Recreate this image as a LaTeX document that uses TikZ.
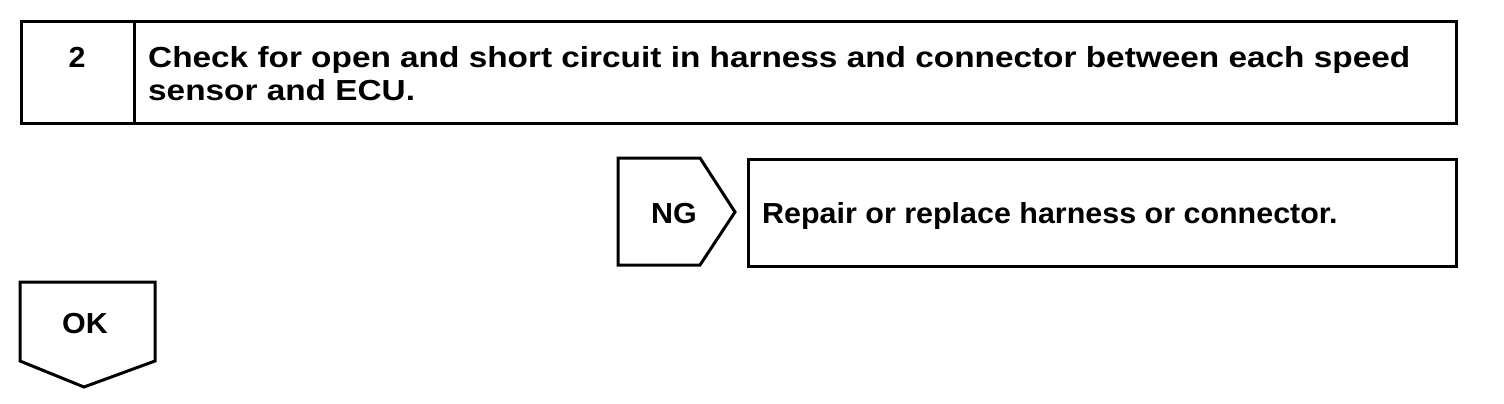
\documentclass[tikz,border=0pt]{standalone}
\usepackage{fontspec}
\setmainfont{Liberation Sans}
\newfontfamily\diagfont[FakeStretch=1.05]{Liberation Sans}
\newfontfamily\widefont[FakeStretch=1.15]{Liberation Sans}
\begin{document}
\begin{tikzpicture}[x=1pt,y=-1pt,
  frame/.style={draw=black,line width=3pt,line join=miter},
  lbl/.style={font=\diagfont\fontsize{29}{33}\selectfont\bfseries,inner sep=0pt},
  widelbl/.style={font=\widefont\fontsize{29}{33}\selectfont\bfseries,inner sep=0pt}]
\useasboundingbox[fill=white] (0,0) rectangle (1504,404);
% step box
\node[frame,anchor=north west,minimum width=1435pt,minimum height=102pt,inner sep=0pt] (stepframe) at (20,20) {};
\coordinate (divtop) at (134,20);
\coordinate (divbot) at (134,122);
\draw[frame] (divtop) -- (divbot);
\node[lbl,anchor=base] (num) at (77,67) {2};
\node[widelbl,anchor=base west] (chk) at (148,67) {Check for open and short circuit in harness and connector between each speed};
\node[widelbl,anchor=base west] (chk2) at (148,100) {sensor and ECU.};
% NG
\draw[frame] (618,158) -- (700,158) -- (735,212) -- (700,265) -- (618,265) -- cycle;
\node[lbl,anchor=base] (ng) at (674,223) {NG};
\node[frame,anchor=north west,minimum width=708pt,minimum height=107pt,inner sep=0pt] (repbox) at (747,158) {};
\node[lbl,anchor=base west] (rep) at (762,223) {Repair or replace harness or connector.};
% OK
\draw[frame] (20,282) -- (155,282) -- (155,361) -- (84,387) -- (20,361) -- cycle;
\node[lbl,anchor=base] (ok) at (85,333) {OK};
\end{tikzpicture}
\end{document}
